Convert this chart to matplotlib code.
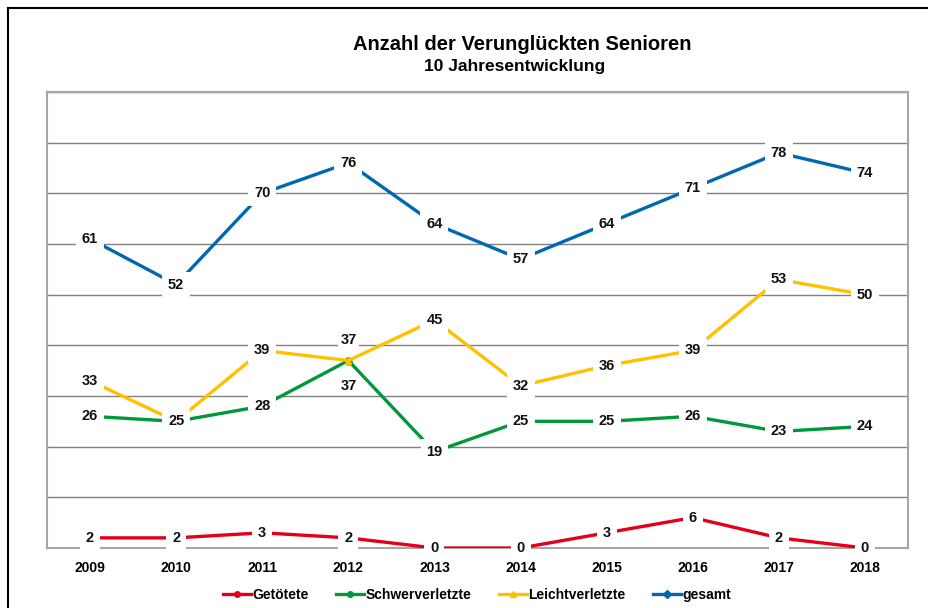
import matplotlib
matplotlib.use("Agg")
import matplotlib.pyplot as plt
from matplotlib.lines import Line2D

plt.rcParams["font.family"] = ["Liberation Sans", "DejaVu Sans"]

years = ["2009", "2010", "2011", "2012", "2013", "2014", "2015", "2016", "2017", "2018"]
getoetete = [2, 2, 3, 2, 0, 0, 3, 6, 2, 0]
schwerverletzte = [26, 25, 28, 37, 19, 25, 25, 26, 23, 24]
leichtverletzte = [33, 25, 39, 37, 45, 32, 36, 39, 53, 50]
gesamt = [61, 52, 70, 76, 64, 57, 64, 71, 78, 74]

series = [
    ("Getötete", getoetete, "#E2001A", "o"),
    ("Schwerverletzte", schwerverletzte, "#00983A", "o"),
    ("Leichtverletzte", leichtverletzte, "#FFC000", "^"),
    ("gesamt", gesamt, "#0068B0", "D"),
]

W, H = 929, 608
fig = plt.figure(figsize=(W / 100, H / 100), dpi=100)
ax = fig.add_axes([47 / W, (H - 548) / H, 861 / W, 456 / H])

x = list(range(len(years)))
for name, vals, col, mk in series:
    ax.plot(x, vals, color=col, lw=2.4, marker=mk, ms=5, label=name, zorder=3,
            solid_capstyle="butt")

# data labels, white boxes hide the markers like in the original
for name, vals, col, mk in series:
    for i, v in enumerate(vals):
        dy, pad = 0, 0.4
        if years[i] == "2012" and name == "Leichtverletzte":
            dy, pad = 15, 0.15
        elif years[i] == "2012" and name == "Schwerverletzte":
            dy, pad = -18, 0.1
        ax.annotate(str(v), (i, v), xytext=(0, dy), textcoords="offset points",
                    ha="center", va="center", fontsize=10.5, fontweight="bold",
                    color="#111111", zorder=5,
                    bbox=dict(boxstyle=f"square,pad={pad}", fc="white", ec="none"))

ax.set_xlim(-0.5, 9.5)
ax.set_ylim(0, 90)
ax.set_yticks(range(0, 91, 10))
ax.set_yticklabels([])
ax.tick_params(axis="y", length=0)
ax.set_xticks(x)
ax.set_xticklabels(years, fontsize=10, fontweight="bold")
ax.tick_params(axis="x", length=0, pad=9)
ax.grid(axis="y", color="#808080", lw=1)
ax.set_axisbelow(True)
for s in ax.spines.values():
    s.set_color("#a6a6a6")
    s.set_linewidth(1.5)

fig.text(522 / W, 1 - 44 / H, "Anzahl der Verunglückten Senioren", ha="center",
         va="center", fontsize=14.5, fontweight="bold")
fig.text(515 / W, 1 - 66 / H, "10 Jahresentwicklung", ha="center", va="center",
         fontsize=12.5, fontweight="bold")

handles = [Line2D([], [], color=c, lw=2.4, marker=m, ms=4) for _, _, c, m in series]
fig.legend(handles, [s[0] for s in series], loc="center", ncol=4,
           bbox_to_anchor=(477 / W, 1 - 595 / H), frameon=False,
           prop={"size": 10, "weight": "bold"}, handlelength=2.0,
           handletextpad=0.1, columnspacing=2.0)

# black frame top/left
fig.add_artist(Line2D([8 / W, 1], [1 - 8 / H, 1 - 8 / H], color="black", lw=1.5))
fig.add_artist(Line2D([8 / W, 8 / W], [0, 1 - 8 / H], color="black", lw=1.5))

fig.savefig("out.png", dpi=100)
